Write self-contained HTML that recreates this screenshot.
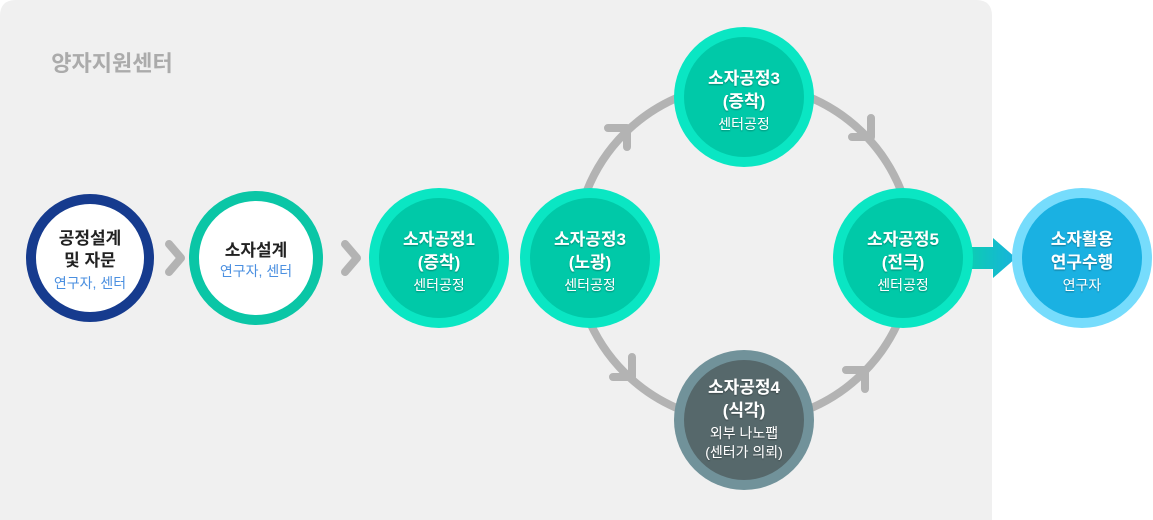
<!DOCTYPE html>
<html><head><meta charset="utf-8"><style>
html,body{margin:0;padding:0;background:#fff;}
svg{display:block;}
text{font-family:"Liberation Sans","Noto Sans CJK KR",sans-serif;text-anchor:middle;}
.b{font-weight:bold;font-size:17px;}
.s{font-size:14px;}
.w{fill:#fff;}
</style></head><body>
<svg width="1153" height="520" viewBox="0 0 1153 520" xmlns="http://www.w3.org/2000/svg">
<defs>
<filter id="sh" x="-10%" y="-10%" width="120%" height="120%"><feDropShadow dx="0" dy="1" stdDeviation="0.8" flood-color="#000" flood-opacity="0.35"/></filter>
<linearGradient id="ag" x1="0" x2="1"><stop offset="0" stop-color="#0ccdb2"/><stop offset="1" stop-color="#18b2dc"/></linearGradient>
</defs>
<path d="M0 16 Q0 0 16 0 H976 Q992 0 992 16 V520 H0 Z" fill="#f0f0f0"/>
<text x="112" y="71" style="font-size:22px;font-weight:bold;fill:#ababab">양자지원센터</text>

<!-- ring -->
<circle cx="744" cy="253" r="169" fill="none" stroke="#b3b3b3" stroke-width="8"/>
<g fill="none" stroke="#b3b3b3" stroke-width="8" stroke-linecap="round" stroke-linejoin="round">
<polyline points="608,128 627,128 627,147"/>
<polyline points="871,118 871,137 852,137"/>
<polyline points="632,357 632,377 613,377"/>
<polyline points="846,370 865,370 865,389"/>
<polyline points="169,244 181,258 169,272"/>
<polyline points="345,244 357,258 345,272"/>
</g>

<!-- arrow 5->6 -->
<path d="M968 247 H993 V238 L1016 258 L993 278 V269 H968 Z" fill="url(#ag)"/>

<!-- node 1 -->
<circle cx="90" cy="258" r="59" fill="#fff" stroke="#163b8e" stroke-width="10"/>
<text x="90" y="244" class="b" fill="#222">공정설계</text>
<text x="90" y="266" class="b" fill="#222">및 자문</text>
<text x="90" y="288" class="s" fill="#4a8fe0">연구자, 센터</text>

<!-- node 2 -->
<circle cx="256" cy="258" r="62" fill="#fff" stroke="#0ac6a6" stroke-width="10"/>
<text x="256" y="256" class="b" fill="#222">소자설계</text>
<text x="256" y="276" class="s" fill="#4a8fe0">연구자, 센터</text>

<g>
<circle cx="439" cy="258" r="70" fill="#0ae6c3"/><circle cx="439" cy="258" r="60" fill="#00c9a8"/>
<circle cx="590" cy="258" r="70" fill="#0ae6c3"/><circle cx="590" cy="258" r="60" fill="#00c9a8"/>
<circle cx="744" cy="97" r="70" fill="#0ae6c3"/><circle cx="744" cy="97" r="60" fill="#00c9a8"/>
<circle cx="903" cy="258" r="70" fill="#0ae6c3"/><circle cx="903" cy="258" r="60" fill="#00c9a8"/>
<circle cx="744" cy="420" r="70" fill="#71929a"/><circle cx="744" cy="420" r="60" fill="#56686b"/>
<circle cx="1082" cy="258" r="70" fill="#76dcfc"/><circle cx="1082" cy="258" r="60" fill="#1ab1e2"/>
</g>
<g filter="url(#sh)" class="w">
<text x="439" y="245" class="b">소자공정1</text><text x="439" y="268" class="b">(증착)</text><text x="439" y="290" class="s">센터공정</text>
<text x="590" y="245" class="b">소자공정3</text><text x="590" y="268" class="b">(노광)</text><text x="590" y="290" class="s">센터공정</text>
<text x="744" y="84" class="b">소자공정3</text><text x="744" y="107" class="b">(증착)</text><text x="744" y="129" class="s">센터공정</text>
<text x="903" y="245" class="b">소자공정5</text><text x="903" y="268" class="b">(전극)</text><text x="903" y="290" class="s">센터공정</text>
<text x="744" y="393" class="b">소자공정4</text><text x="744" y="416" class="b">(식각)</text><text x="744" y="438" class="s">외부 나노팹</text><text x="744" y="457" class="s">(센터가 의뢰)</text>
<text x="1082" y="245" class="b">소자활용</text><text x="1082" y="268" class="b">연구수행</text><text x="1082" y="290" class="s">연구자</text>
</g>
</svg>
</body></html>
